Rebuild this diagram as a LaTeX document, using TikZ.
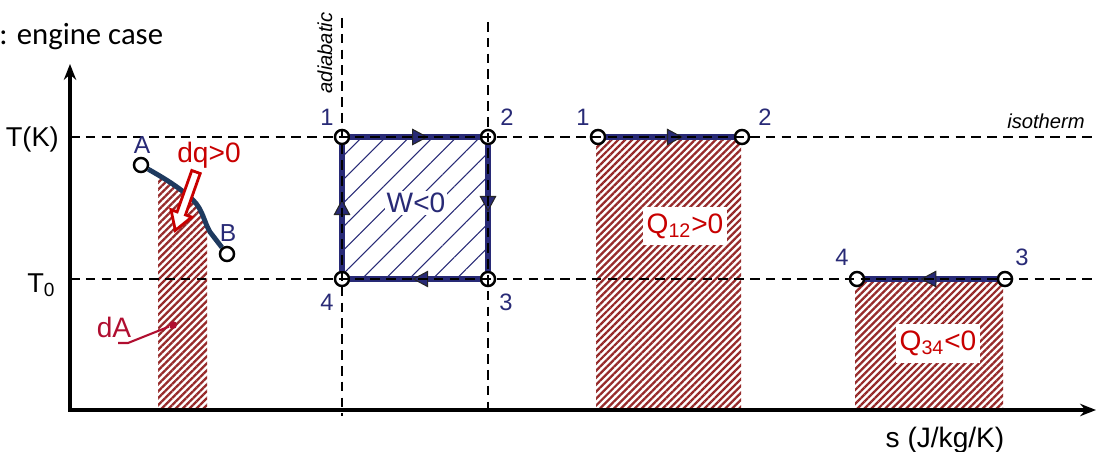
\documentclass[tikz,border=0pt]{standalone}
\usepackage{fontspec}
\setmainfont{Liberation Sans}
\newfontfamily\titlefont{Carlito}
\usepackage{xcolor}
\usetikzlibrary{arrows.meta, positioning, calc, patterns.meta, decorations.markings}

\definecolor{cyclenavy}{RGB}{40,42,118}
\definecolor{curveblue}{RGB}{30,58,95}
\definecolor{heatred}{RGB}{200,0,0}
\definecolor{hatchred}{RGB}{150,42,42}
\definecolor{dared}{RGB}{176,14,48}

\begin{document}
\begin{tikzpicture}[
  x=0.02cm, y=-0.02cm,
  axis/.style={line width=2.3pt, line join=miter,
               {Stealth[length=9pt,width=7pt]}-{Stealth[length=9pt,width=7pt]}},
  guide/.style={line width=0.7pt, dash pattern=on 5.5pt off 3.5pt},
  state/.style={circle, draw=black, fill=white, line width=1.4pt,
                minimum size=8pt, inner sep=0pt},
  process/.style={draw=cyclenavy, line width=3pt, postaction={decorate},
                  decoration={markings, mark=at position #1 with
                  {\arrow{Triangle[length=9pt,width=9.5pt,line width=0.6pt,fill=cyclenavy,color=black!85]}}}},
  process/.default=0.55,
  redhatch/.style={pattern={Lines[angle=45,distance=2.8pt,line width=1.3pt]}, pattern color=hatchred},
  bluehatch/.style={pattern={Lines[angle=45,distance=9.5pt,line width=0.6pt]}, pattern color=cyclenavy},
  numlabel/.style={text=cyclenavy, font=\fontsize{13.5}{15}\selectfont},
  ptlabel/.style={text=cyclenavy, font=\fontsize{14}{16}\selectfont},
  heatlabel/.style={text=heatred, font=\fontsize{16}{19}\selectfont},
  axlabel/.style={font=\fontsize{15.5}{18}\selectfont},
  note/.style={font=\itshape\fontsize{11.5}{13}\selectfont},
]
\useasboundingbox (0,0) rectangle (1097,452);

% Points
\coordinate (O) at (70,410);
\coordinate (ytip) at (70,64);
\coordinate (xtip) at (1096,410);
\coordinate (p1) at (342,137);
\coordinate (p2) at (488,137);
\coordinate (p3) at (488,279);
\coordinate (p4) at (342,279);
\coordinate (q1) at (598,137);
\coordinate (q2) at (742,137);
\coordinate (q3) at (1005,279);
\coordinate (q4) at (857,279);
\coordinate (a) at (141,165);
\coordinate (b) at (227,254);

% Hatched areas
\pattern[bluehatch] (p1) rectangle (p3);
\fill[redhatch] (596,137) rectangle (741,410);
\fill[redhatch] (855,279) rectangle (1003,410);
\begin{scope}
  \clip (a) .. controls (160,176) and (178,186) .. (193,200)
        .. controls (203,210) and (204,222) .. (210,232) -- (b)
        -- (b |- O) -- (a |- O) -- cycle;
  \fill[redhatch] (158,150) rectangle (207,410);
\end{scope}

% Axes
\draw[axis] (ytip) -- (O) -- (xtip);

% States
\node[state] (s1) at (p1) {};
\node[state] (s2) at (p2) {};
\node[state] (s3) at (p3) {};
\node[state] (s4) at (p4) {};
\node[state] (t1) at (q1) {};
\node[state] (t2) at (q2) {};
\node[state] (t3) at (q3) {};
\node[state] (t4) at (q4) {};
\node[state] (A) at (a) {};
\node[state] (B) at (b) {};

% Cycle
\draw[process=0.6] (s1) -- (s2);
\draw[process=0.53] (s2) -- (s3);
\draw[process=0.52] (s3) -- (s4);
\draw[process=0.57] (s4) -- (s1);
\draw[process=0.6] (t1) -- (t2);
\draw[process=0.58] (t3) -- (t4);

% Process A-B
\draw[curveblue, line width=2.8pt] (A) .. controls (160,176) and (178,186) .. (193,200)
      .. controls (203,210) and (204,222) .. (210,232) -- (B);
\draw[heatred, line width=1.6pt, fill=white, line join=miter]
  (200.2,173.5) -- (185.5,214.9) -- (191.7,217.1) -- (175.3,230.4)
  -- (171.0,209.7) -- (177.1,211.9) -- (191.8,170.5) -- cycle;

% Guide lines
\draw[guide] (O |- p1) -- (1097,137);
\draw[guide] (O |- p4) -- (1097,279);
\draw[guide] (342,18) -- (342,416);
\draw[guide] (488,22) -- (488,410);

% Labels
\node[numlabel] at (327,117) {1};
\node[numlabel] at (507,117) {2};
\node[numlabel] at (506,302) {3};
\node[numlabel] at (327,302) {4};
\node[numlabel] at (583,117) {1};
\node[numlabel] at (765,117) {2};
\node[numlabel] at (1022,257) {3};
\node[numlabel] at (842,257) {4};
\node[ptlabel] at (142,145) {A};
\node[ptlabel] at (228,233) {B};

\node[text=cyclenavy, font=\fontsize{16}{19}\selectfont, fill=white, inner sep=1pt] (work) at (416,203) {W<0};
\node[heatlabel, fill=white, inner xsep=2pt, inner ysep=4pt] (q12) at (685,226) {Q\textsubscript{12}>0};
\node[heatlabel, fill=white, inner xsep=2pt, inner ysep=4pt] (q34) at (938,343) {Q\textsubscript{34}<0};
\node[heatlabel] (dq) at (209,155) {dq>0};

% dA pointer
\node[heatlabel, text=dared] (dA) at (114,327) {dA};
\node[circle, fill=dared, inner sep=0pt, minimum size=4.5pt] (dAdot) at (173,325) {};
\coordinate (dAfoot) at (118,343);
\draw[dared, line width=1.2pt] (dAfoot) -- ++(10,0) -- (dAdot);

\node[axlabel, anchor=east] (Tlab) at (65,139) {T(K)};
\node[axlabel, anchor=base west, inner sep=0pt] (T0lab) at (27,292) {T\textsubscript{0}};
\node[font=\fontsize{16}{19}\selectfont] (slab) at (945,440) {s (J/kg/K)};
\node[note] (iso) at (1046,121) {isotherm};
\node[note, rotate=90] (adia) at (325,53) {adiabatic};
\node[font=\titlefont\fontsize{17.5}{20}\selectfont, anchor=base west, inner sep=0pt] (title) at (-1,45) {: engine case};

\end{tikzpicture}
\end{document}
